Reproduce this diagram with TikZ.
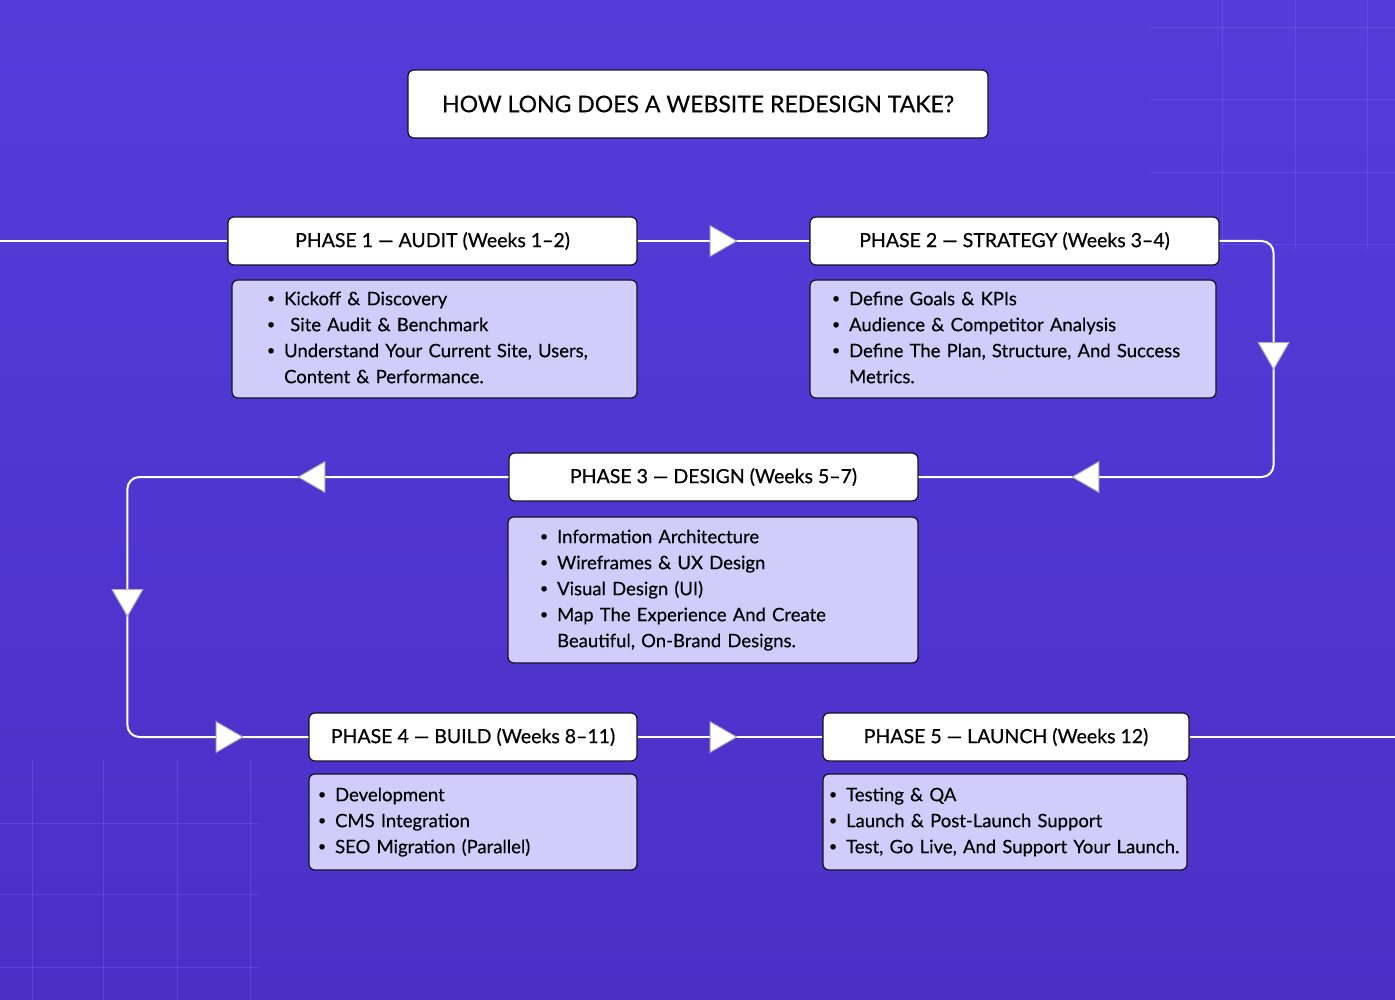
\documentclass[tikz,border=0pt]{standalone}
\usepackage{fontspec}
\setmainfont{Lato}
\usetikzlibrary{positioning, arrows.meta, decorations.markings}
\definecolor{bgtop}{HTML}{553CDA}
\definecolor{bgbottom}{HTML}{4B30C6}
\definecolor{gridfaint}{HTML}{8A78F5}
\definecolor{ink}{HTML}{14121F}
\definecolor{lavender}{HTML}{D2CCFB}
\newcommand\phaselist[1]{\begin{tabular}{@{}l@{\hspace{9pt}}l@{}}#1\end{tabular}}
\newcommand\pitem{\raisebox{0.12em}{\fontsize{14}{14}\selectfont\textbullet} &}
\tikzset{
  titlebox/.style={draw=ink, line width=1.2pt, rounded corners=6pt, fill=white, minimum width=580pt, minimum height=68pt, font=\fontsize{23}{28}\selectfont\addfontfeature{FakeBold=0.3}},
  phasehead/.style={draw=ink, line width=1.2pt, rounded corners=6pt, fill=white, minimum height=48pt, font=\fontsize{19.5}{24}\selectfont\addfontfeature{FakeBold=0.6}},
  phasebody/.style={draw=ink, line width=1.2pt, rounded corners=6pt, fill=lavender, inner xsep=0pt, align=left, font=\fontsize{18.5}{26}\selectfont\addfontfeature{FakeBold=0.3}},
  flow/.style={draw=white, line width=2pt, rounded corners=12pt},
  tipat/.style={postaction={decorate, decoration={markings, mark=at position #1 with {\arrow{Triangle[width=32pt, length=28pt, color=black!30, fill=white, line width=1pt]}}}}},
  gridline/.style={draw=gridfaint, line width=1pt, opacity=0.25},
}

\begin{document}
\begin{tikzpicture}[x=1pt, y=-1pt]
  % backdrop with faint grid in two corners
  \useasboundingbox (0,0) rectangle (1395,1000);
  \shade[top color=bgtop, bottom color=bgbottom] (0,0) rectangle (1395,1000);
  \foreach \x in {1222,1295,1367} \draw[gridline] (\x,0) -- (\x,250);
  \foreach \y in {28,100,173,245} \draw[gridline] (1150,\y) -- (1395,\y);
  \foreach \x in {32,103,177,250} \draw[gridline] (\x,760) -- (\x,1000);
  \foreach \y in {823,894,967} \draw[gridline] (0,\y) -- (260,\y);

  \node[titlebox] (title) at (698,104) {HOW LONG DOES A WEBSITE REDESIGN TAKE?};

  % phase headers
  \node[phasehead, minimum width=409pt] (head1) at (432.5,241) {PHASE 1 — AUDIT (Weeks 1–2)};
  \node[phasehead, minimum width=409pt] (head2) at (1014.5,241) {PHASE 2 — STRATEGY (Weeks 3–4)};
  \node[phasehead, minimum width=409pt] (head3) at (713.5,477) {PHASE 3 — DESIGN (Weeks 5–7)};
  \node[phasehead, minimum width=328pt] (head4) at (473,737) {PHASE 4 — BUILD (Weeks 8–11)};
  \node[phasehead, minimum width=366pt] (head5) at (1006,737) {PHASE 5 — LAUNCH (Weeks 12)};

  % phase bodies
  \node[phasebody, text width=405pt, minimum height=118pt] (body1) at (434.5,339) {\hspace*{35pt}\phaselist{
    \pitem Kickoff \& Discovery\\
    \pitem \ Site Audit \& Benchmark\\
    \pitem Understand Your Current Site, Users,\\
    & Content \& Performance.}};
  \node[phasebody, text width=406pt, minimum height=118pt] (body2) at (1013,339) {\hspace*{22pt}\phaselist{
    \pitem Define Goals \& KPIs\\
    \pitem Audience \& Competitor Analysis\\
    \pitem Define The Plan, Structure, And Success\\
    & Metrics.}};
  \node[phasebody, text width=410pt, minimum height=146pt] (body3) at (713,590) {\hspace*{32pt}\phaselist{
    \pitem Information Architecture\\
    \pitem Wireframes \& UX Design\\
    \pitem Visual Design (UI)\\
    \pitem Map The Experience And Create\\
    & Beautiful, On-Brand Designs.}};
  \node[phasebody, text width=328pt, minimum height=96pt] (body4) at (473,822) {\hspace*{9pt}\phaselist{
    \pitem Development\\
    \pitem CMS Integration\\
    \pitem SEO Migration (Parallel)}};
  \node[phasebody, text width=364pt, minimum height=96pt] (body5) at (1005,822) {\hspace*{6pt}\phaselist{
    \pitem Testing \& QA\\
    \pitem Launch \& Post-Launch Support\\
    \pitem Test, Go Live, And Support Your Launch.}};

  % flow line
  \coordinate (start) at (0,241);
  \coordinate (finish) at (1395,737);
  \draw[flow] (start) -- (head1.west);
  \draw[flow, tipat=100pt] (head1.east) -- (head2.west);
  \draw[flow, tipat=178pt, tipat=482pt] (head2.east) -- ++(54,0) |- (head3.east);
  \draw[flow, tipat=211pt, tipat=516pt, tipat=747pt] (head3.west) -- ++(-381,0) |- (head4.west);
  \draw[flow, tipat=100pt] (head4.east) -- (head5.west);
  \draw[flow] (head5.east) -- (finish);
\end{tikzpicture}
\end{document}
